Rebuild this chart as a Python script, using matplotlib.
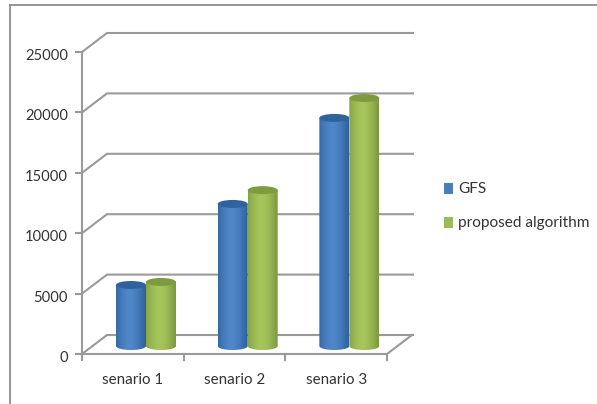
import numpy as np
import matplotlib
matplotlib.use("Agg")
import matplotlib.pyplot as plt
from matplotlib.path import Path
from matplotlib.patches import PathPatch, Ellipse, Rectangle

categories = ["senario 1", "senario 2", "senario 3"]
gfs = [5050, 11760, 18880]
proposed = [5300, 12900, 20530]
y_ticks = [0, 5000, 10000, 15000, 20000, 25000]

GRID = "#9a9a9a"
plt.rcParams['font.family'] = ['Lato', 'DejaVu Sans']

W, H = 597, 404
fig = plt.figure(figsize=(W / 100, H / 100), dpi=100)
ax = fig.add_axes([0, 0, 1, 1])

# one category = 101.67 px, one px on y = 82.8 units
ux = 305 / 3
uy = 25000 / 302
ax.axis("off")

dx = 25 / ux
dy = 19 * uy
right = 331 / ux  # back wall end

# outer frame, left and top only
ax.plot([-72 / ux, -72 / ux], [-(H - 354) * uy, 349 * uy], color="#8c8c8c", lw=1.3)
ax.plot([-72 / ux, (W - 82) / ux], [349 * uy, 349 * uy], color="#8c8c8c", lw=1.3)

# gridlines on the back wall and the side wall
for t in y_ticks:
    ax.plot([0, dx, right], [t, t + dy, t + dy], color=GRID, lw=1.5, solid_joinstyle="miter")
    ax.plot([-6 / ux, 0], [t, t], color=GRID, lw=1.5)

# front axes
ax.plot([0, 0], [0, 25000], color=GRID, lw=1.5)
ax.plot([0, 3, 3 + dx], [0, 0, dy], color=GRID, lw=1.5)
for i in range(0, 4):
    ax.plot([i, i], [0, -6 * uy], color=GRID, lw=1.5)

for t in y_ticks:
    ax.text(-14 / ux, t - 4 * uy, str(t), ha="right", va="center", fontsize=10.6, color="#333333")
for i, c in enumerate(categories):
    ax.text(i + 0.5, -26 * uy, c, ha="center", va="center", fontsize=10.9, color="#333333")


def cylinder(x0, value, edge, mid, top):
    # x0 is the left side of the bar in category units, bars sit on a raised floor
    w = 30 / ux
    base = 8 * uy
    ry = 4 * uy
    cx = x0 + w / 2
    tv = base + value
    t = np.linspace(np.pi, 2 * np.pi, 40)
    xs = np.r_[cx + w / 2 * np.cos(t), x0 + w, x0]
    ys = np.r_[base + ry * np.sin(t), tv, tv]
    clip = PathPatch(Path(np.c_[xs, ys]), transform=ax.transData, fc="none", ec="none")
    ax.add_patch(clip)
    grad = np.linspace(0, 1, 64)
    shade = np.abs(grad - 0.45) / 0.55
    c_edge = np.array(matplotlib.colors.to_rgb(edge))
    c_mid = np.array(matplotlib.colors.to_rgb(mid))
    img = c_mid[None, :] + (c_edge - c_mid)[None, :] * shade[:, None] ** 1.6
    im = ax.imshow(img[None, :, :], extent=[x0, x0 + w, base - ry, tv], aspect="auto",
                   interpolation="bilinear", zorder=3)
    im.set_clip_path(clip)
    ax.add_patch(Ellipse((cx, tv), w, 2 * ry, fc=top, ec="none", zorder=4))


for i in range(3):
    left = i + 34 / ux
    cylinder(left, gfs[i], "#2d5f9a", "#4f87c8", "#2f639f")
    cylinder(left + 30 / ux, proposed[i], "#7b983c", "#a6c65c", "#7f9b40")

ax.set_xlim(-82 / ux, (W - 82) / ux)
ax.set_ylim(-(H - 354) * uy, 354 * uy)

# legend
for name, col, py in [("GFS", "#4a7ebb", 189), ("proposed algorithm", "#9bbb59", 223)]:
    ax.add_patch(Rectangle((362 / ux, (354 - py - 5) * uy), 9 / ux, 11 * uy, fc=col, ec="none", zorder=5))
    ax.text(376 / ux, (354 - py) * uy, name, ha="left", va="center", fontsize=11.1, color="#333333")

fig.savefig("out.png", dpi=100)
